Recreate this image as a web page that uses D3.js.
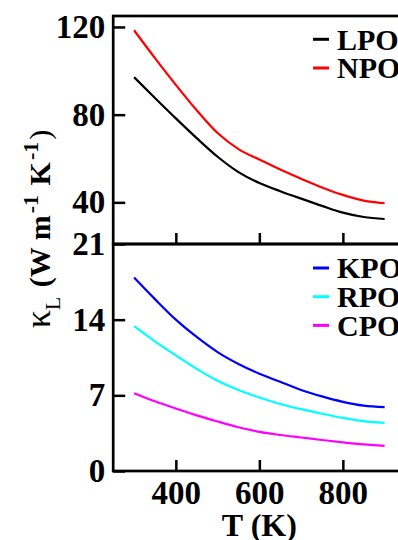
<!DOCTYPE html>
<html>
<head>
<meta charset="utf-8">
<script src="https://cdn.jsdelivr.net/npm/d3@7"></script>
<style>
  body { margin: 0; background: #fff; }
  svg text { font-family: "Liberation Serif", "Times New Roman", Times, serif; font-weight: bold; }
</style>
</head>
<body>
<div id="chart"></div>
<script>
var temps = [300, 350, 400, 450, 500, 550, 600, 650, 700, 750, 800, 850, 900];

var lpo = [97.1, 87.6, 78.3, 69.3, 60.8, 53.8, 48.8, 45.1, 41.7, 38.4, 35.3, 33.3, 32.4];
var npo = [118.5, 105.8, 93.6, 82.0, 71.6, 64.3, 59.5, 55.0, 50.8, 46.8, 43.4, 40.8, 39.6];

var kpo = [17.9, 15.9, 14.0, 12.4, 11.0, 9.9, 9.0, 8.25, 7.5, 6.9, 6.4, 6.05, 5.9];
var rpo = [13.4, 12.0, 10.7, 9.45, 8.35, 7.5, 6.8, 6.2, 5.72, 5.3, 4.92, 4.62, 4.45];
var cpo = [7.2, 6.45, 5.78, 5.15, 4.58, 4.05, 3.62, 3.33, 3.1, 2.87, 2.65, 2.46, 2.32];

var topSeries = [
  {name: 'LPO', values: lpo, color: '#000000'},
  {name: 'NPO', values: npo, color: '#ff0000'}
];
var botSeries = [
  {name: 'KPO', values: kpo, color: '#0000ff'},
  {name: 'RPO', values: rpo, color: '#00ffff'},
  {name: 'CPO', values: cpo, color: '#ff00ff'}
];

var xTicks = [400, 600, 800];
var topTicks = [40, 80, 120];
var botTicks = [0, 7, 14, 21];

var w = 398, h = 540;
var serif = '"Liberation Serif", "Times New Roman", Times, serif';

var svg = d3.select('#chart').append('svg')
    .attr('width', w)
    .attr('height', h);

var x = d3.scaleLinear().domain([250, 950]).range([113.2, 405.5]);
var yTop = d3.scaleLinear().domain([21, 125]).range([244, 16]);
var yBot = d3.scaleLinear().domain([0, 21]).range([471, 244]);

function drawPanel(y, series, yt, showX, legendY) {
  var g = svg.append('g');

  var line = d3.line()
      .x(function(d) { return x(d[0]); })
      .y(function(d) { return y(d[1]); })
      .curve(d3.curveMonotoneX);

  series.forEach(function(s) {
    g.append('path')
      .datum(temps.map(function(t, i) { return [t, s.values[i]]; }))
      .attr('fill', 'none')
      .attr('stroke', s.color)
      .attr('stroke-width', 2.2)
      .attr('d', line);
  });

  // left axis, ticks inward
  var ya = g.append('g')
      .attr('transform', 'translate(' + x.range()[0] + ',0)')
      .call(d3.axisLeft(y).tickValues(yt).tickSize(-12).tickPadding(8).tickFormat(d3.format('d')));
  ya.select('.domain').remove();
  ya.selectAll('line').attr('stroke', '#000').attr('stroke-width', 2.5);
  ya.selectAll('text').style('font-size', '33px').style('font-family', serif).attr('fill', '#000');

  // bottom axis, ticks inward
  var xa = g.append('g')
      .attr('transform', 'translate(0,' + y.range()[0] + ')')
      .call(d3.axisBottom(x).tickValues(xTicks).tickSize(-11).tickPadding(10).tickFormat(d3.format('d')));
  xa.select('.domain').remove();
  xa.selectAll('line').attr('stroke', '#000').attr('stroke-width', 2.5);
  xa.selectAll('text').style('font-size', '33px').style('font-family', serif).attr('fill', '#000');
  if (!showX) xa.selectAll('text').remove();

  // frame
  g.append('rect')
    .attr('x', x.range()[0])
    .attr('y', y.range()[1])
    .attr('width', x.range()[1] - x.range()[0])
    .attr('height', y.range()[0] - y.range()[1])
    .attr('fill', 'none')
    .attr('stroke', '#000')
    .attr('stroke-width', 2.7);

  // legend
  series.forEach(function(s, i) {
    var ly = legendY + i * 28.7;
    g.append('line')
      .attr('x1', 313).attr('x2', 329)
      .attr('y1', ly).attr('y2', ly)
      .attr('stroke', s.color)
      .attr('stroke-width', 3);
    g.append('text')
      .attr('x', 337)
      .attr('y', ly)
      .attr('dy', '0.34em')
      .style('font-size', '30px')
      .text(s.name);
  });
}

drawPanel(yTop, topSeries, topTicks, false, 39.3);
drawPanel(yBot, botSeries, botTicks, true, 268);

// x title
svg.append('text')
  .attr('x', x(600))
  .attr('y', 536)
  .attr('text-anchor', 'middle')
  .style('font-size', '32px')
  .text('T (K)');

// y title
var yt = svg.append('text')
  .attr('transform', 'translate(50,229) rotate(-90)')
  .attr('text-anchor', 'middle')
  .style('font-size', '30px');
yt.append('tspan').style('font-weight', 'normal').style('font-size', '36px').text('\u03ba');
yt.append('tspan').style('font-weight', 'normal').style('font-size', '22px').attr('dy', 10).text('L');
yt.append('tspan').attr('dy', -10).attr('dx', 2).text(' (W m');
yt.append('tspan').style('font-size', '22px').attr('dx', 2).attr('dy', -12).text('-1');
yt.append('tspan').attr('dy', 12).attr('dx', 2).text(' K');
yt.append('tspan').style('font-size', '22px').attr('dx', 2).attr('dy', -12).text('-1');
yt.append('tspan').attr('dy', 12).attr('dx', 2).style('font-weight', 'normal').text(')');
</script>
</body>
</html>
